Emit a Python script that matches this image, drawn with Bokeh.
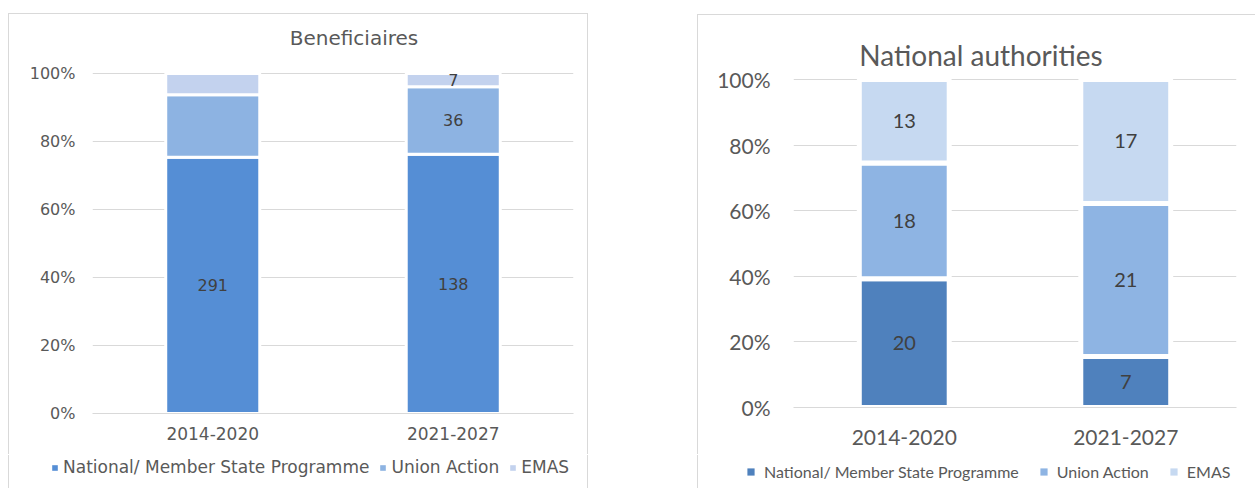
from bokeh.plotting import figure
from bokeh.models import (ColumnDataSource, FactorRange, Range1d, FixedTicker,
                          NumeralTickFormatter, Legend, LegendItem, Label)
from bokeh.embed import file_html
from bokeh.resources import INLINE
from bokeh.core.properties import value

# ---------------- data ----------------
periods = ["2014-2020", "2021-2027"]
series_names = ["National/ Member State Programme", "Union Action", "EMAS"]
pct_ticks = [0, 0.2, 0.4, 0.6, 0.8, 1.0]

# Beneficiaires (counts; only some labelled in the original)
ben_national = [291, 138]
ben_union = [71, 36]
ben_emas = [24, 7]
ben_national_lbl = ["291", "138"]
ben_union_lbl = ["", "36"]
ben_emas_lbl = ["", "7"]

# National authorities
auth_national = [20, 7]
auth_union = [18, 21]
auth_emas = [13, 17]
auth_national_lbl = ["20", "7"]
auth_union_lbl = ["18", "21"]
auth_emas_lbl = ["13", "17"]

ben_colors = ["#558ED5", "#8DB3E2", "#C3D2EE"]
auth_colors = ["#4F81BD", "#8EB4E3", "#C6D9F1"]

BORDER = "1px solid #D9D9D9"
GRID = "#D9D9D9"


def make_chart(title, vals, labels, colors, c):
    n = len(periods)
    totals = [sum(v[i] for v in vals) for i in range(n)]
    shares = [[v[i] / totals[i] for i in range(n)] for v in vals]
    keys = ["s%d" % k for k in range(len(vals))]
    data = {"period": periods}
    for k, s in zip(keys, shares):
        data[k] = s
    src = ColumnDataSource(data)

    # the frame reaches above 100% so that the title sits inside it
    y_end = 1 + c["head_px"] / c["plot_px"]
    p = figure(x_range=FactorRange(*periods), y_range=Range1d(0, y_end),
               width=c["width"], height=c["height"],
               output_backend="svg", toolbar_location=None,
               min_border_left=c["mbl"], min_border_right=c["mbr"],
               min_border_top=c["mbt"], min_border_bottom=c["mbb"],
               background_fill_color="white", border_fill_color="white",
               outline_line_color=None)
    p.title.text = ""
    p.title.standoff = 0
    p.styles = c["styles"]

    p.vbar_stack(keys, x="period", width=c["bar_w"], fill_color=colors,
                 line_color="white", line_width=c["gap"], source=src)

    # data labels
    lx, ly, lt = [], [], []
    for i, per in enumerate(periods):
        base = 0.0
        for s, lab in zip(shares, labels):
            lx.append(per)
            ly.append(base + s[i] / 2)
            lt.append(lab[i])
            base += s[i]
    p.text(x="x", y="y", text="t",
           source=ColumnDataSource(dict(x=lx, y=ly, t=lt)),
           text_align="center", text_baseline="middle",
           text_font=value(c["font"]), text_font_size=c["lbl_fs"],
           text_color="#404040")

    # axes
    p.xgrid.grid_line_color = None
    p.ygrid.grid_line_color = GRID
    p.ygrid.ticker = FixedTicker(ticks=pct_ticks)
    p.yaxis.ticker = FixedTicker(ticks=pct_ticks)
    p.yaxis.formatter = NumeralTickFormatter(format="0%")
    p.yaxis.axis_line_color = None
    p.yaxis.major_tick_line_color = None
    p.yaxis.minor_tick_line_color = None
    p.yaxis.major_tick_out = 0
    p.yaxis.major_tick_in = 0
    p.yaxis.major_label_standoff = c["ystand"]
    p.yaxis.major_label_text_font = c["font"]
    p.yaxis.major_label_text_font_size = c["tick_fs"]
    p.yaxis.major_label_text_color = "#595959"

    p.xaxis.axis_line_color = GRID
    p.xaxis.major_tick_line_color = None
    p.xaxis.minor_tick_line_color = None
    p.xaxis.major_tick_out = 0
    p.xaxis.major_tick_in = 0
    p.xaxis.major_label_standoff = c["xstand"]
    p.xaxis.major_label_text_font = c["font"]
    p.xaxis.major_label_text_font_size = c["cat_fs"]
    p.xaxis.major_label_text_color = "#595959"

    # chart title (inside the frame, above the 100% line)
    p.add_layout(Label(x=n / 2, y=1 + c["title_px"] / c["plot_px"],
                       x_offset=c["title_dx"], text=title,
                       text_align="center", text_baseline="middle",
                       text_font=c["font"], text_font_size=c["title_fs"],
                       text_color="#595959"))
    return p


def make_legend(colors, c):
    q = figure(width=c["width"], height=c["height"], min_border=0,
               x_range=Range1d(0, 1), y_range=Range1d(0, 1),
               x_axis_location=None, y_axis_location=None,
               output_backend="svg", toolbar_location=None,
               background_fill_color="white", border_fill_color="white",
               outline_line_color=None)
    q.grid.visible = False
    q.styles = c["styles"]
    items = []
    for name, col in zip(series_names, colors):
        # zero-size swatch renderer: only its legend glyph is visible
        r = q.vbar(x=[0.5], top=[0], bottom=[0], width=0,
                   fill_color=col, line_color=None)
        items.append(LegendItem(label=name, renderers=[r]))
    leg = Legend(items=items, orientation="horizontal", location=c["loc"],
                 padding=0, margin=0, border_line_color=None,
                 background_fill_alpha=0,
                 glyph_width=c["glyph"], glyph_height=c["glyph"],
                 label_standoff=c["lstand"], spacing=c["lspace"],
                 label_text_font=c["font"], label_text_font_size=c["fs"],
                 label_text_color="#595959")
    q.add_layout(leg, "center")
    return q


left = make_chart("Beneficiaires", [ben_national, ben_union, ben_emas],
                  [ben_national_lbl, ben_union_lbl, ben_emas_lbl], ben_colors,
                  dict(width=580, height=441, mbl=83, mbr=16, mbt=10, mbb=42,
                       head_px=49, plot_px=340, title_px=36,
                       styles={"position": "absolute", "left": "8px", "top": "13px",
                               "border-top": BORDER, "border-left": BORDER,
                               "border-right": BORDER},
                       bar_w=0.391, gap=3, font="DejaVu Sans", lbl_fs="16px",
                       ystand=17, tick_fs="16px", xstand=13, cat_fs="17px",
                       title_dx=21, title_fs="20px"))

left_leg = make_legend(ben_colors,
                       dict(width=580, height=33, loc=(42, 11), glyph=7,
                            lstand=5, lspace=10, font="DejaVu Sans", fs="17px",
                            styles={"position": "absolute", "left": "8px",
                                    "top": "455px", "border-left": BORDER,
                                    "border-right": BORDER}))

right = make_chart("National authorities", [auth_national, auth_union, auth_emas],
                   [auth_national_lbl, auth_union_lbl, auth_emas_lbl], auth_colors,
                   dict(width=558, height=440, mbl=95, mbr=20, mbt=10, mbb=48,
                        head_px=54, plot_px=328, title_px=25,
                        styles={"position": "absolute", "left": "697px", "top": "14px",
                                "border-top": BORDER, "border-left": BORDER},
                        bar_w=0.406, gap=5, font="Lato", lbl_fs="20px",
                        ystand=23, tick_fs="21px", xstand=22, cat_fs="21px",
                        title_dx=-34, title_fs="28px"))

right_leg = make_legend(auth_colors,
                        dict(width=558, height=33, loc=(48, 7), glyph=9,
                             lstand=9, lspace=20, font="Lato", fs="16px",
                             styles={"position": "absolute", "left": "697px",
                                     "top": "455px", "border-left": BORDER}))

open("out.html", "w").write(file_html([left, left_leg, right, right_leg], INLINE))
